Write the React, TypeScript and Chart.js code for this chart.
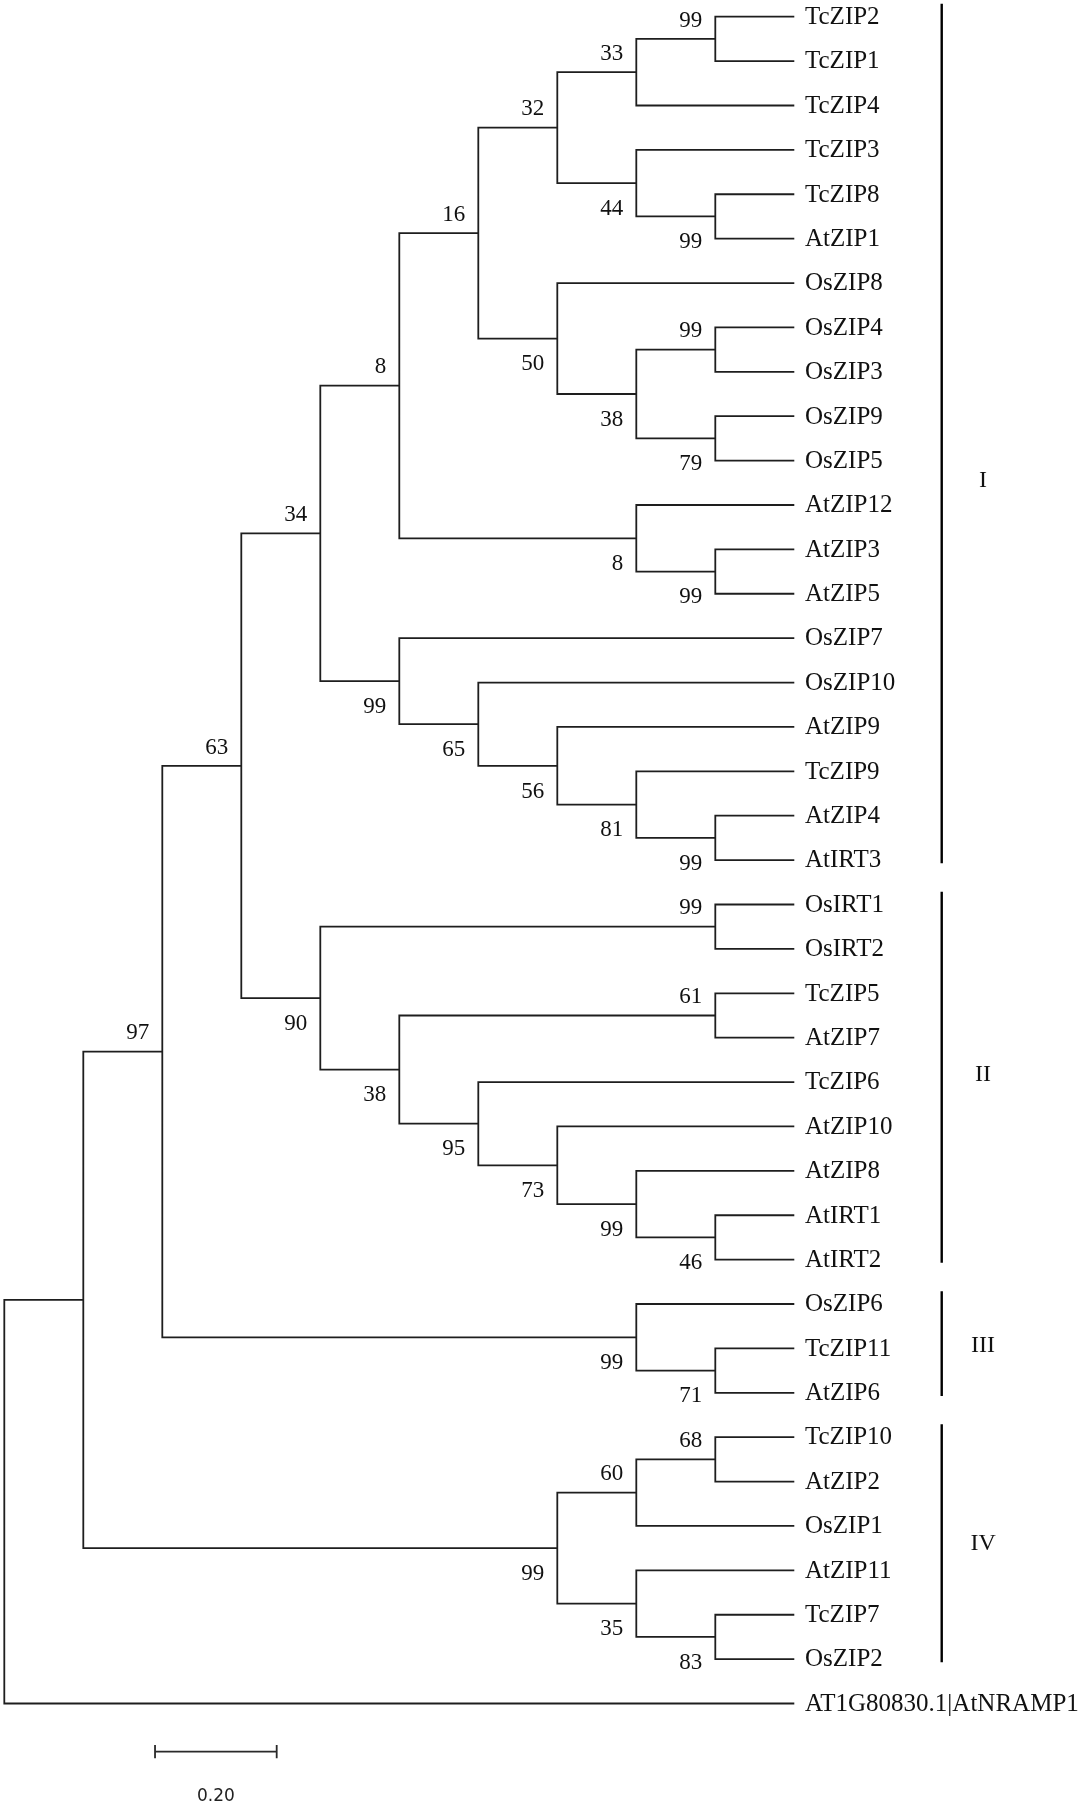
import React, { useEffect, useRef } from "react";
import { Chart, registerables } from "chart.js";

Chart.register(...registerables);

// ---- Tree data (topology with bootstrap support values) ----
const cladeI =
  "((((((TcZIP2,TcZIP1)99,TcZIP4)33,(TcZIP3,(TcZIP8,AtZIP1)99)44)32,(OsZIP8,((OsZIP4,OsZIP3)99,(OsZIP9,OsZIP5)79)38)50)16,(AtZIP12,(AtZIP3,AtZIP5)99)8)8,(OsZIP7,(OsZIP10,(AtZIP9,(TcZIP9,(AtZIP4,AtIRT3)99)81)56)65)99)34";
const cladeII =
  "((OsIRT1,OsIRT2)99,((TcZIP5,AtZIP7)61,(TcZIP6,(AtZIP10,(AtZIP8,(AtIRT1,AtIRT2)46)99)73)95)38)90";
const cladeIII = "(OsZIP6,(TcZIP11,AtZIP6)71)99";
const cladeIV = "(((TcZIP10,AtZIP2)68,OsZIP1)60,(AtZIP11,(TcZIP7,OsZIP2)83)35)99";
const outgroup = "AT1G80830.1|AtNRAMP1";
const supportI_II = "63";
const supportI_III = "97";

// ---- Groups (leaf index ranges, in leaf order) ----
const groupNames = ["I", "II", "III", "IV"];
const groupFirst = [0, 20, 29, 32];
const groupLast = [19, 28, 31, 37];
const groupLabelAt = [10.42, 23.79, 29.9, 34.36];

// ---- Scale bar ----
const scaleBarLabel = "0.20";
const scaleBarStart = 1.908;
const scaleBarEnd = 3.448;
const scaleBarRow = 39.085;
const scaleLabelRow = 40.06;

type TNode = {
  name?: string;
  support?: string;
  children: TNode[];
  x: number;
  y: number;
  h: number;
  upper?: boolean;
};

function parseNewick(s: string): TNode {
  let i = 0;
  const stop = ",()";
  function node(): TNode {
    if (s[i] === "(") {
      i++;
      const children = [node()];
      while (s[i] === ",") {
        i++;
        children.push(node());
      }
      i++; // ')'
      let lab = "";
      while (i < s.length && !stop.includes(s[i])) lab += s[i++];
      return { children, support: lab || undefined, x: 0, y: 0, h: 0 };
    }
    let name = "";
    while (i < s.length && !stop.includes(s[i])) name += s[i++];
    return { name, children: [], x: 0, y: 0, h: 0 };
  }
  return node();
}

function buildTree() {
  const newick = `((((${cladeI},${cladeII})${supportI_II},${cladeIII})${supportI_III},${cladeIV}),${outgroup})`;
  const root = parseNewick(newick);
  let leafIdx = 0;
  const leaves: TNode[] = [];
  const internals: TNode[] = [];
  function layout(n: TNode) {
    if (n.children.length === 0) {
      n.h = 0;
      n.y = leafIdx++;
      leaves.push(n);
      return;
    }
    n.children.forEach((c, k) => {
      c.upper = k === 0;
      layout(c);
    });
    n.h = Math.max(...n.children.map((c) => c.h)) + 1;
    n.y = (n.children[0].y + n.children[n.children.length - 1].y) / 2;
    internals.push(n);
  }
  layout(root);
  const total = root.h;
  const setX = (n: TNode) => {
    n.x = total - n.h;
    n.children.forEach(setX);
  };
  setX(root);
  return { root, leaves, internals, total };
}

const SERIF = '"Liberation Serif", "Times New Roman", serif';

export default function App() {
  const ref = useRef<HTMLCanvasElement | null>(null);

  useEffect(() => {
    document.body.style.margin = "0";
    const canvas = ref.current;
    if (!canvas) return;
    const { leaves, internals } = buildTree();

    const gap = { x: NaN, y: NaN };
    const treePts: { x: number; y: number }[] = [];
    internals.forEach((n) => {
      const a = n.children[0];
      const b = n.children[n.children.length - 1];
      treePts.push({ x: a.x, y: a.y }, { x: n.x, y: a.y }, { x: n.x, y: b.y }, { x: b.x, y: b.y }, gap);
      n.children.slice(1, -1).forEach((c) => {
        treePts.push({ x: n.x, y: c.y }, { x: c.x, y: c.y }, gap);
      });
    });

    const barX = 11.866;
    const barPts: { x: number; y: number }[] = [];
    groupFirst.forEach((f, k) => {
      barPts.push({ x: barX, y: f - 0.29 }, { x: barX, y: groupLast[k] + 0.07 }, gap);
    });

    const tick = 0.15;
    const scalePts = [
      { x: scaleBarStart, y: scaleBarRow },
      { x: scaleBarEnd, y: scaleBarRow },
      gap,
      { x: scaleBarStart, y: scaleBarRow - tick },
      { x: scaleBarStart, y: scaleBarRow + tick },
      gap,
      { x: scaleBarEnd, y: scaleBarRow - tick },
      { x: scaleBarEnd, y: scaleBarRow + tick },
    ];

    const textPlugin = {
      id: "treeText",
      afterDatasetsDraw(chart: any) {
        const ctx = chart.ctx as CanvasRenderingContext2D;
        const xs = chart.scales.x;
        const ys = chart.scales.y;
        ctx.save();
        ctx.fillStyle = "#111";
        // leaf labels
        ctx.font = `25px ${SERIF}`;
        ctx.textAlign = "left";
        ctx.textBaseline = "alphabetic";
        leaves.forEach((l) => {
          const px = xs.getPixelForValue(l.x) + 10.7;
          const py = ys.getPixelForValue(l.y) + 7.3;
          ctx.fillText(l.name || "", px, py);
        });
        // bootstrap labels
        ctx.font = `23px ${SERIF}`;
        ctx.textAlign = "right";
        internals.forEach((n) => {
          if (!n.support) return;
          const px = xs.getPixelForValue(n.x) - 13;
          const cy = ys.getPixelForValue(n.y) + (n.upper ? -20 : 24);
          ctx.fillText(n.support, px, cy + 7.8);
        });
        // group labels
        ctx.font = `24px ${SERIF}`;
        ctx.textAlign = "center";
        groupNames.forEach((g, k) => {
          const px = xs.getPixelForValue(12.39);
          const py = ys.getPixelForValue(groupLabelAt[k]) + 8;
          ctx.fillText(g, px, py);
        });
        // scale label
        ctx.font = `17px "DejaVu Sans", sans-serif`;
        ctx.fillStyle = "#222";
        ctx.fillText(
          scaleBarLabel,
          xs.getPixelForValue((scaleBarStart + scaleBarEnd) / 2),
          ys.getPixelForValue(scaleLabelRow) + 6
        );
        ctx.restore();
      },
    };

    const W = 1082;
    const H = 1806;
    const chart = new Chart(canvas, {
      type: "scatter",
      data: {
        datasets: [
          {
            data: treePts,
            showLine: true,
            borderColor: "#1e1e1e",
            borderWidth: 1.8,
            pointRadius: 0,
            spanGaps: false,
            borderJoinStyle: "miter",
          } as any,
          {
            data: barPts,
            showLine: true,
            borderColor: "#000",
            borderWidth: 2.4,
            pointRadius: 0,
            spanGaps: false,
          } as any,
          {
            data: scalePts,
            showLine: true,
            borderColor: "#2a2a2a",
            borderWidth: 1.8,
            pointRadius: 0,
            spanGaps: false,
          } as any,
        ],
      },
      options: {
        animation: false,
        responsive: false,
        maintainAspectRatio: false,
        devicePixelRatio: 1,
        layout: { padding: 0 },
        plugins: { legend: { display: false }, tooltip: { enabled: false } },
        events: [],
        scales: {
          x: { type: "linear", display: false, min: -4.3 / 79, max: (W - 4.3) / 79 },
          y: {
            type: "linear",
            display: false,
            reverse: true,
            min: -16.7 / 44.39,
            max: (H - 16.7) / 44.39,
          },
        },
      },
      plugins: [textPlugin],
    });
    return () => chart.destroy();
  }, []);

  return (
    <div style={{ width: 1082, height: 1806, background: "#fff" }}>
      <canvas ref={ref} width={1082} height={1806} style={{ display: "block" }} />
    </div>
  );
}
